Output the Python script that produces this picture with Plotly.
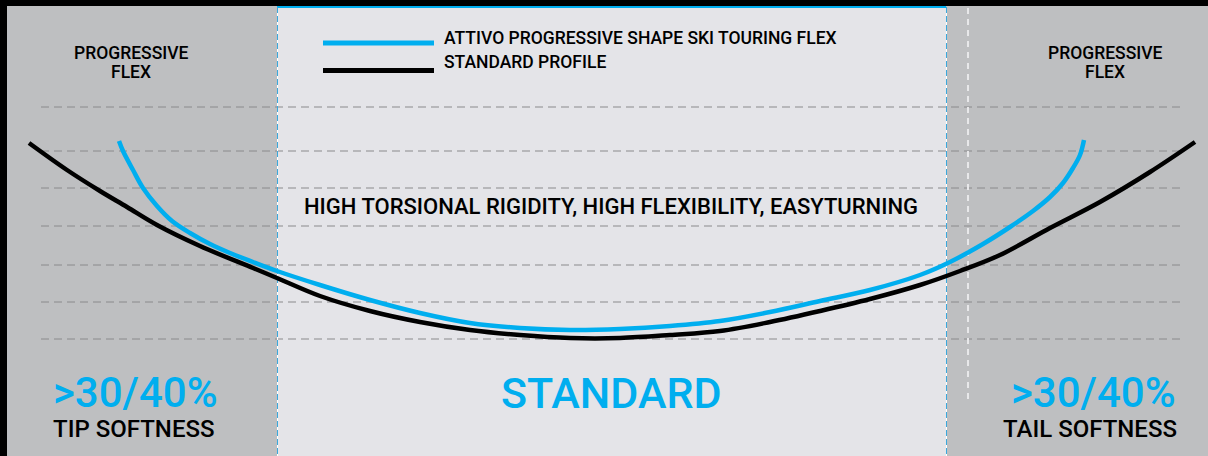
import plotly.graph_objects as go

# curve samples (x along the ski, y = drawn depth, screen-like units)
standard_x = [29, 67, 100, 127, 157, 200, 253, 277, 320, 370, 420, 470, 520, 570, 620,
              670, 720, 770, 820, 870, 920, 960, 1000, 1050, 1100, 1150, 1195]
standard_y = [143, 170, 191, 207, 225, 246, 268, 278, 296, 311, 322, 330, 335, 338, 338,
              335, 331, 322, 311, 299, 285, 271, 255, 228, 202, 172, 142]

attivo_x = [119, 123, 133, 143, 157, 172, 190, 210, 230, 253, 277, 320, 370, 420, 470, 520,
            570, 620, 670, 720, 770, 820, 870, 920, 950, 983, 1010, 1033, 1050, 1063, 1073,
            1080, 1084]
attivo_y = [141, 151, 170, 188, 206, 221, 233, 244, 253, 262, 271, 285, 300, 313, 323, 328,
            330, 329, 326, 321, 312, 301, 290, 275, 262, 244, 227, 211, 197, 183, 168,
            155, 140]

grid_y = [107, 151, 188, 226, 265, 302, 339]

legend_labels = ["ATTIVO PROGRESSIVE SHAPE SKI TOURING FLEX", "STANDARD PROFILE"]

BLUE = "#00aeef"
FONT = "Roboto"

fig = go.Figure()

shapes = []
# backgrounds
shapes.append(dict(type="rect", xref="x", yref="y", x0=0, x1=1208, y0=0, y1=456,
                   fillcolor="#bebfc1", line_width=0, layer="below"))
shapes.append(dict(type="rect", xref="x", yref="y", x0=277, x1=946, y0=6, y1=456,
                   fillcolor="#e4e4e8", line_width=0, layer="below"))
shapes.append(dict(type="rect", xref="x", yref="y", x0=0, x1=1208, y0=0, y1=6,
                   fillcolor="black", line_width=0, layer="below"))
shapes.append(dict(type="rect", xref="x", yref="y", x0=0, x1=7, y0=0, y1=456,
                   fillcolor="black", line_width=0, layer="below"))
shapes.append(dict(type="line", xref="x", yref="y", x0=277, x1=946, y0=7, y1=7,
                   line=dict(color=BLUE, width=2), layer="below"))
# dashed grid
for gy in grid_y:
    shapes.append(dict(type="line", xref="x", yref="y", x0=41, x1=1180, y0=gy, y1=gy,
                       line=dict(color="#8a8a8c", width=1, dash="8px,5px"), layer="below"))
# zone separators
for vx in [277, 946]:
    shapes.append(dict(type="line", xref="x", yref="y", x0=vx + 0.5, x1=vx + 0.5, y0=7, y1=456,
                       line=dict(color="white", width=1), layer="below"))
    shapes.append(dict(type="line", xref="x", yref="y", x0=vx + 0.5, x1=vx + 0.5, y0=7, y1=456,
                       line=dict(color="#3aa8dc", width=1, dash="6px,3px"), layer="below"))
shapes.append(dict(type="line", xref="x", yref="y", x0=968, x1=968, y0=8, y1=403,
                   line=dict(color="#e8e8ea", width=2, dash="6px,5px"), layer="below"))
# legend swatches
shapes.append(dict(type="line", xref="x", yref="y", x0=323, x1=434, y0=43, y1=43,
                   line=dict(color=BLUE, width=5)))
shapes.append(dict(type="line", xref="x", yref="y", x0=323, x1=434, y0=70.5, y1=70.5,
                   line=dict(color="black", width=5)))

fig.add_trace(go.Scatter(x=standard_x, y=standard_y, mode="lines", line_shape="spline",
                         line=dict(color="black", width=4.5), showlegend=False, hoverinfo="skip"))
fig.add_trace(go.Scatter(x=attivo_x, y=attivo_y, mode="lines", line_shape="spline",
                         line=dict(color=BLUE, width=4.5), showlegend=False, hoverinfo="skip"))

def txt(x, y, s, size, color="black", anchor="center"):
    return dict(x=x, y=y, xref="x", yref="y", text=s, showarrow=False, xanchor=anchor,
                yanchor="middle", font=dict(family=FONT, size=size, color=color, weight=500))

annotations = [
    txt(131, 53, "PROGRESSIVE", 17.5),
    txt(131, 72, "FLEX", 17.5),
    txt(1105, 53, "PROGRESSIVE", 17.5),
    txt(1105, 72, "FLEX", 17.5),
    txt(442, 38, legend_labels[0], 17.5, anchor="left"),
    txt(442, 62, legend_labels[1], 17.5, anchor="left"),
    txt(611, 206, "HIGH TORSIONAL RIGIDITY, HIGH FLEXIBILITY, EASYTURNING", 22),
    txt(611, 393, "STANDARD", 43, color=BLUE),
    txt(135, 392, ">30/40%", 42, color=BLUE),
    txt(134, 429, "TIP SOFTNESS", 24),
    txt(1093, 392, ">30/40%", 42, color=BLUE),
    txt(1090, 429, "TAIL SOFTNESS", 24),
]

fig.update_layout(
    width=1208, height=456,
    margin=dict(l=0, r=0, t=0, b=0),
    paper_bgcolor="#bebfc1", plot_bgcolor="#bebfc1",
    xaxis=dict(range=[0, 1208], visible=False, fixedrange=True),
    yaxis=dict(range=[456, 0], visible=False, fixedrange=True),
    shapes=shapes,
    annotations=annotations,
)

fig.write_html("out.html", config={"displayModeBar": False},
               post_script="document.body.style.margin='0';document.body.style.overflow='hidden';")
